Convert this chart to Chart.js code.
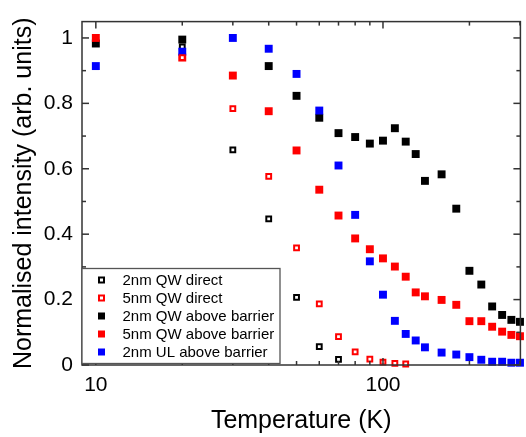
<!DOCTYPE html>
<html>
<head>
<meta charset="utf-8">
<script src="https://cdn.jsdelivr.net/npm/chart.js@4/dist/chart.umd.min.js"></script>
<style>
  html, body { margin: 0; padding: 0; background: #fff; }
  #wrap { width: 526px; height: 437px; }
</style>
</head>
<body>
<div id="wrap"><canvas id="plChart"></canvas></div>
<script>
// temperatures (K) and normalised PL intensities
const temps = [10, 20, 30, 40, 50, 60, 70, 80, 90, 100, 110, 120, 130, 140, 160, 180, 200, 220, 240, 260, 280, 300];
const qw2Direct = [null, 0.973, 0.658, 0.447, 0.207, 0.056, 0.017, null, null, null, null, null, null, null, null, null, null, null, null, null, null, null];
const qw5Direct = [null, 0.940, 0.784, 0.577, 0.358, 0.187, 0.087, 0.040, 0.018, 0.009, 0.005, 0.003, null, null, null, null, null, null, null, null, null, null];
const qw2Barrier = [0.983, 0.995, null, 0.914, 0.823, 0.756, 0.709, 0.697, 0.677, 0.686, 0.724, 0.683, 0.645, 0.563, 0.583, 0.478, 0.288, 0.246, 0.179, 0.153, 0.138, 0.132];
const qw5Barrier = [1.0, 0.940, 0.885, 0.776, 0.656, 0.536, 0.457, 0.387, 0.354, 0.326, 0.301, 0.270, 0.222, 0.210, 0.199, 0.184, 0.134, 0.134, 0.117, 0.102, 0.092, 0.088];
const ulBarrier = [0.914, 0.958, 1.0, 0.967, 0.890, 0.778, 0.610, 0.459, 0.317, 0.215, 0.135, 0.095, 0.075, 0.054, 0.038, 0.032, 0.024, 0.016, 0.010, 0.010, 0.007, 0.007];

const xMajor = [10, 100];
const xMinor = [20, 30, 40, 50, 60, 70, 80, 90, 200, 300];
const yMajor = [0, 0.2, 0.4, 0.6, 0.8, 1];
const yMajorLabels = ["0", "0.2", "0.4", "0.6", "0.8", "1"];
const yMinor = [0.1, 0.3, 0.5, 0.7, 0.9];

const FONT = "'Liberation Sans', Arial, sans-serif";

function pts(arr) {
  return temps.map((t, i) => ({ x: t, y: arr[i] })).filter(p => p.y !== null);
}

function openSq(label, data, color, order) {
  return {
    label, data: pts(data), order,
    pointStyle: "rect", pointRadius: 3.4, pointHoverRadius: 3.4,
    borderWidth: 2, borderColor: color, backgroundColor: "#fff",
    showLine: false, clip: false, open: true
  };
}
function fullSq(label, data, color, order) {
  return {
    label, data: pts(data), order,
    pointStyle: "rect", pointRadius: 5.6, pointHoverRadius: 5.6,
    borderWidth: 0, borderColor: color, backgroundColor: color,
    showLine: false, clip: false, open: false
  };
}

// frame with inward ticks on all four sides
const framePlugin = {
  id: "frame",
  afterDatasetsDraw(chart) {
    const { ctx, chartArea: a, scales: { x, y } } = chart;
    ctx.save();
    ctx.strokeStyle = "#333";
    ctx.lineWidth = 1.5;
    ctx.strokeRect(a.left, a.top, a.right - a.left, a.bottom - a.top);
    const tick = (x1, y1, x2, y2) => { ctx.beginPath(); ctx.moveTo(x1, y1); ctx.lineTo(x2, y2); ctx.stroke(); };
    xMajor.forEach(v => { const px = x.getPixelForValue(v); tick(px, a.bottom, px, a.bottom - 7); tick(px, a.top, px, a.top + 7); });
    xMinor.forEach(v => { const px = x.getPixelForValue(v); tick(px, a.bottom, px, a.bottom - 4); tick(px, a.top, px, a.top + 4); });
    yMajor.forEach(v => { const py = y.getPixelForValue(v); tick(a.left, py, a.left + 7, py); tick(a.right, py, a.right - 7, py); });
    yMinor.forEach(v => { const py = y.getPixelForValue(v); tick(a.left, py, a.left + 4, py); tick(a.right, py, a.right - 4, py); });
    ctx.restore();
  }
};

// boxed legend in the lower left corner
const legendPlugin = {
  id: "boxLegend",
  afterDatasetsDraw(chart) {
    const { ctx, chartArea: a } = chart;
    const boxL = a.left, boxT = 268.5, boxR = 280, boxB = a.bottom - 1.5;
    ctx.save();
    ctx.fillStyle = "#fff";
    ctx.fillRect(boxL, boxT, boxR - boxL, boxB - boxT);
    ctx.strokeStyle = "#555";
    ctx.lineWidth = 1.3;
    ctx.strokeRect(boxL, boxT, boxR - boxL, boxB - boxT);
    ctx.font = "15px " + FONT;
    ctx.textBaseline = "middle";
    chart.data.datasets.forEach((ds, i) => {
      const cy = 280 + i * 18, cx = 101.5;
      if (ds.open) {
        ctx.strokeStyle = ds.borderColor; ctx.lineWidth = 2;
        ctx.fillStyle = "#fff";
        ctx.fillRect(cx - 2.5, cy - 2.5, 5, 5);
        ctx.strokeRect(cx - 2.5, cy - 2.5, 5, 5);
      } else {
        ctx.fillStyle = ds.backgroundColor;
        ctx.fillRect(cx - 3.5, cy - 3.5, 7, 7);
      }
      ctx.fillStyle = "#000";
      ctx.fillText(ds.label, 122.5, cy + 1);
    });
    ctx.restore();
  }
};

new Chart(document.getElementById("plChart"), {
  type: "scatter",
  data: {
    datasets: [
      openSq("2nm QW direct", qw2Direct, "#000000", 3),
      openSq("5nm QW direct", qw5Direct, "#ff0000", 0),
      fullSq("2nm QW above barrier", qw2Barrier, "#000000", 4),
      fullSq("5nm QW above barrier", qw5Barrier, "#ff0000", 2),
      fullSq("2nm UL above barrier", ulBarrier, "#0000ff", 1)
    ]
  },
  options: {
    responsive: true,
    maintainAspectRatio: false,
    animation: false,
    layout: { padding: { top: 7, right: 1, left: 0, bottom: 0 } },
    plugins: { legend: { display: false }, tooltip: { enabled: false } },
    scales: {
      x: {
        type: "logarithmic",
        min: 8.95, max: 301,
        grid: { display: false, drawTicks: false },
        border: { display: false },
        afterFit: s => { s.height = 72; },
        afterBuildTicks: s => { s.ticks = xMajor.map(v => ({ value: v, major: true })); },
        ticks: {
          autoSkip: false, maxRotation: 0, padding: 8, color: "#000",
          font: { family: FONT, size: 21 },
          callback: v => String(v)
        },
        title: {
          display: true, text: "Temperature (K)", color: "#000",
          font: { family: FONT, size: 25 }, padding: { top: 0, bottom: 1 }
        }
      },
      y: {
        type: "linear",
        min: 0, max: 1.05,
        grid: { display: false, drawTicks: false },
        border: { display: false },
        afterFit: s => { s.width = 82; },
        afterBuildTicks: s => { s.ticks = yMajor.map(v => ({ value: v })); },
        ticks: {
          padding: 9, color: "#000",
          font: { family: FONT, size: 21 },
          callback: v => yMajorLabels[yMajor.indexOf(v)]
        },
        title: {
          display: true, text: "Normalised intensity (arb. units)", color: "#000",
          font: { family: FONT, size: 25 }, padding: { top: 9, bottom: 0 }
        }
      }
    }
  },
  plugins: [framePlugin, legendPlugin]
});
</script>
</body>
</html>
